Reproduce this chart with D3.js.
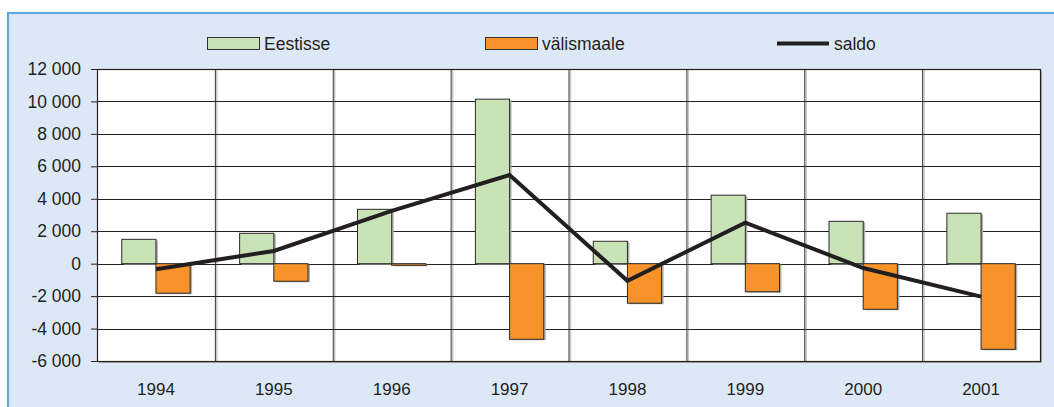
<!DOCTYPE html>
<html><head><meta charset="utf-8">
<script src="https://cdn.jsdelivr.net/npm/d3@7"></script>
<style>
html,body{margin:0;padding:0;background:#fff;}
svg{display:block;font-family:"Liberation Sans",Arial,sans-serif;}
</style></head>
<body><svg id="c" width="1054" height="407"></svg>
<script>
const years = ["1994","1995","1996","1997","1998","1999","2000","2001"];
const eestisse = [1500, 1870, 3350, 10140, 1380, 4220, 2610, 3110];
const valismaale = [-1820, -1085, -100, -4660, -2440, -1730, -2810, -5280];
const saldo = [-340, 785, 3250, 5470, -1060, 2530, -270, -2030];
const yTicks = [-6000,-4000,-2000,0,2000,4000,6000,8000,10000,12000];
const seriesNames = ["Eestisse","välismaale","saldo"];

const colGreen = "#c9e3b6", colOrange = "#f7932a", colLine = "#231f20", ink = "#231f20";
const svg = d3.select("#c");
const L = 97, R = 1040, T = 69, B = 361;

// panel
svg.append("rect").attr("x",8).attr("y",13).attr("width",1060).attr("height",420)
  .attr("fill","#dde8f6").attr("stroke","#5fabe0").attr("stroke-width",2.2);

const x = d3.scaleBand().domain(years).range([L,R]).padding(0);
const x1 = d3.scaleBand().domain(["in","out"]).range([x.bandwidth()*0.21, x.bandwidth()*0.79]).padding(0);
const y = d3.scaleLinear().domain([-6000,12000]).range([B,T]);

// plot area shadow + background
svg.append("rect").attr("x",L+2).attr("y",T+2).attr("width",R-L).attr("height",B-T).attr("fill","#a9a9a9");
svg.append("rect").attr("x",L).attr("y",T).attr("width",R-L).attr("height",B-T).attr("fill","#fff");

// vertical grid shadows and lines
const vb = years.slice(1).map(d=>x(d));
svg.append("g").selectAll("line").data(vb).join("line")
  .attr("x1",d=>d+2).attr("x2",d=>d+2).attr("y1",T+1).attr("y2",B)
  .attr("stroke","#c8c8c8").attr("stroke-width",1.5);
svg.append("g").selectAll("line").data(vb).join("line")
  .attr("x1",d=>d+0.5).attr("x2",d=>d+0.5).attr("y1",T).attr("y2",B)
  .attr("stroke","#333").attr("stroke-width",1);

// horizontal grid
svg.append("g").selectAll("line").data(yTicks).join("line")
  .attr("x1",L).attr("x2",R).attr("y1",d=>Math.round(y(d))+0.5).attr("y2",d=>Math.round(y(d))+0.5)
  .attr("stroke","#222").attr("stroke-width",1.1);

// bars
const gB = svg.append("g");
years.forEach((yr,i)=>{
  const bx = x(yr);
  const vals = [["in",eestisse[i],colGreen],["out",valismaale[i],colOrange]];
  vals.forEach(([k,v,c])=>{
    const y0 = y(Math.max(0,v)), h = Math.abs(y(v)-y(0));
    gB.append("rect").attr("x",bx+x1(k)+2).attr("y",y0+1).attr("width",x1.bandwidth()).attr("height",h)
      .attr("fill","#b0b0b0");
    gB.append("rect").attr("x",bx+x1(k)).attr("y",y0).attr("width",x1.bandwidth()).attr("height",h)
      .attr("fill",c).attr("stroke","#2a2a2a").attr("stroke-width",1);
  });
});

// plot border
svg.append("rect").attr("x",L+0.5).attr("y",T+0.5).attr("width",R-L).attr("height",B-T)
  .attr("fill","none").attr("stroke","#222").attr("stroke-width",1.2);

// line
const line = d3.line().x((d,i)=>x(years[i])+x.bandwidth()/2).y(d=>y(d));
svg.append("path").datum(saldo).attr("d",line).attr("fill","none")
  .attr("stroke",colLine).attr("stroke-width",4).attr("stroke-linejoin","miter");

// y axis
const loc = d3.formatLocale({decimal:",",thousands:" ",grouping:[3],currency:["",""],minus:"-"});
const fmt = loc.format(",d");
const ya = svg.append("g").attr("transform",`translate(${L},0)`)
  .call(d3.axisLeft(y).tickValues(yTicks).tickFormat(fmt).tickSize(6).tickPadding(10));
ya.select(".domain").attr("stroke","#222");
ya.selectAll(".tick line").attr("stroke","#222");
ya.selectAll("text").attr("font-size",17.5).attr("fill",ink).attr("font-family","Liberation Sans, Arial, sans-serif");

// x axis labels
const xa = svg.append("g").attr("transform",`translate(0,${B})`)
  .call(d3.axisBottom(x).tickSize(0).tickPadding(22));
xa.select(".domain").remove();
xa.selectAll("text").attr("font-size",17).attr("fill",ink).attr("font-family","Liberation Sans, Arial, sans-serif");

// legend
const lg = svg.append("g");
const legX = [207, 485, 777];
seriesNames.forEach((n,i)=>{
  if(i<2){
    lg.append("rect").attr("x",legX[i]+0.5).attr("y",37.5).attr("width",52).attr("height",12)
      .attr("fill",i===0?colGreen:colOrange).attr("stroke","#333").attr("stroke-width",1);
  } else {
    lg.append("line").attr("x1",legX[i]).attr("x2",legX[i]+52).attr("y1",43.5).attr("y2",43.5)
      .attr("stroke",colLine).attr("stroke-width",4);
  }
  lg.append("text").attr("x",legX[i]+57).attr("y",49.5).attr("font-size",17.5).attr("fill",ink).text(n);
});
</script></body></html>
